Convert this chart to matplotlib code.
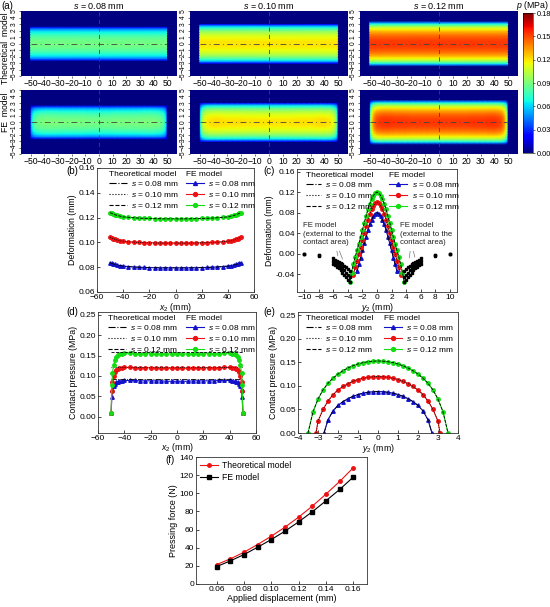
import numpy as np
import matplotlib
matplotlib.use("Agg")
import matplotlib.pyplot as plt
from matplotlib.lines import Line2D

plt.rcParams['font.family'] = ['Liberation Sans', 'DejaVu Sans']
plt.rcParams['mathtext.fontset'] = 'custom'
plt.rcParams['mathtext.rm'] = 'Liberation Sans'
plt.rcParams['mathtext.it'] = 'Liberation Sans:italic'
plt.rcParams['font.size'] = 6
plt.rcParams['axes.linewidth'] = 0.6

W, H = 550, 607

s_values = ["0.08", "0.10", "0.12"]
fe_colors = ["#1212cc", "#ee1111", "#11dd11"]
fe_markers = ["^", "o", "o"]
theo_styles = ["-.", ":", "--"]

# ---- (b) deformation along x2, half profile (symmetric about 0)
x_def = [-50, -48.75, -47.5, -46.25, -45, -42.5, -40, -36, -32, -28, -24, -20, -16, -12, -8, -4, 0]
def_x_008 = [0.0835, 0.0830, 0.0826, 0.0822, 0.0819, 0.0813, 0.0809, 0.0805, 0.0802, 0.0800,
             0.0798, 0.0797, 0.0796, 0.0795, 0.0795, 0.0795, 0.0795]
def_x_010 = [0.1040, 0.1034, 0.1029, 0.1025, 0.1021, 0.1014, 0.1009, 0.1005, 0.1002, 0.1000,
             0.0998, 0.0997, 0.0996, 0.0995, 0.0995, 0.0995, 0.0995]
def_x_012 = [0.1240, 0.1234, 0.1228, 0.1223, 0.1219, 0.1212, 0.1206, 0.1202, 0.1199, 0.1196,
             0.1194, 0.1193, 0.1192, 0.1191, 0.1190, 0.1190, 0.1190]

# ---- (c) deformation along y2 in contact, half profile from 0 outwards
y_def = [0, 0.25, 0.5, 0.75, 1.0, 1.25, 1.5, 1.75, 2.0, 2.25, 2.5, 2.75, 3.0, 3.25, 3.5, 3.75]
def_y_008 = [0.080, 0.078, 0.073, 0.066, 0.057, 0.046, 0.033, 0.020, 0.006, -0.008, -0.021, -0.034]
def_y_010 = [0.100, 0.098, 0.093, 0.086, 0.077, 0.066, 0.053, 0.040, 0.026, 0.012, -0.001, -0.014,
             -0.027, -0.041]
def_y_012 = [0.120, 0.118, 0.113, 0.106, 0.097, 0.086, 0.073, 0.060, 0.046, 0.032, 0.019, 0.006,
             -0.007, -0.021, -0.037, -0.055]
# FE points outside the contact area (both sides)
y_ext = [3.75, 4.0, 4.25, 4.5, 4.75, 5.0, 5.25, 5.5, 5.75, 6.0, 8.0, 10.0]
ext_008 = [-0.034, -0.031, -0.027, -0.024, -0.021, -0.018, -0.016, -0.014, -0.012, -0.009, -0.002, 0.000]
ext_010 = [-0.045, -0.041, -0.037, -0.033, -0.029, -0.026, -0.023, -0.020, -0.018, -0.015, -0.003, 0.000]
ext_012 = [-0.056, -0.051, -0.046, -0.041, -0.037, -0.033, -0.029, -0.026, -0.023, -0.021, -0.005, 0.000]

# ---- (d) contact pressure along x2, half profile
x_pr = [-50, -49.5, -49, -48, -47, -46, -45, -44, -42, -40, -36, -32, -28, -24, -20, -16, -12, -8, -4, 0]
pr_x_008 = [0.010, 0.048, 0.065, 0.075, 0.081, 0.084, 0.086, 0.087, 0.088, 0.089, 0.089, 0.089,
            0.088, 0.088, 0.088, 0.088, 0.088, 0.087, 0.087, 0.087]
pr_x_010 = [0.010, 0.062, 0.085, 0.100, 0.109, 0.114, 0.117, 0.119, 0.120, 0.121, 0.121, 0.120,
            0.120, 0.120, 0.120, 0.119, 0.119, 0.119, 0.119, 0.119]
pr_x_012 = [0.010, 0.078, 0.108, 0.128, 0.140, 0.147, 0.151, 0.153, 0.155, 0.156, 0.156, 0.155,
            0.155, 0.155, 0.154, 0.154, 0.154, 0.154, 0.154, 0.154]
theo_x_ends = [-50, 50]
theo_p0 = [0.092, 0.123, 0.158]

# ---- (e) contact pressure along y2, half profile
y_pr_008 = [-2.7, -2.5, -2.25, -2.0, -1.75, -1.5, -1.25, -1.0, -0.75, -0.5, -0.25, 0]
pr_y_008 = [0.0, 0.028, 0.0470, 0.0585, 0.0667, 0.0730, 0.0779, 0.0817, 0.0845, 0.0865, 0.0876, 0.0880]
y_pr_010 = [-3.1, -3.0, -2.75, -2.5, -2.25, -2.0, -1.75, -1.5, -1.25, -1.0, -0.75, -0.5, -0.25, 0]
pr_y_010 = [0.0, 0.025, 0.050, 0.068, 0.0815, 0.0912, 0.0988, 0.1049, 0.1098, 0.1136, 0.1164,
            0.1184, 0.1196, 0.1200]
y_pr_012 = [-3.5, -3.25, -3.0, -2.75, -2.5, -2.25, -2.0, -1.75, -1.5, -1.25, -1.0, -0.75, -0.5, -0.25, 0]
pr_y_012 = [0.0, 0.045, 0.072, 0.0915, 0.1055, 0.1165, 0.1252, 0.1323, 0.1382, 0.1429, 0.1466,
            0.1495, 0.1514, 0.1526, 0.1530]

# ---- (f) pressing force
disp = [0.06, 0.07, 0.08, 0.09, 0.10, 0.11, 0.12, 0.13, 0.14, 0.15, 0.16]
force_theo = [21.4, 27.6, 35.0, 43.5, 52.7, 62.6, 73.7, 85.8, 99.1, 113.0, 128.2]
force_fe = [19.2, 25.4, 32.4, 40.5, 49.0, 58.2, 68.5, 79.6, 91.7, 104.2, 117.9]


def mirror_neg(x, v):
    # half profile given from negative side up to 0
    x = np.asarray(x, float)
    v = np.asarray(v, float)
    return np.concatenate([x, -x[-2::-1]]), np.concatenate([v, v[-2::-1]])


def mirror_pos(y, v):
    # half profile given from 0 outwards
    y = np.asarray(y[:len(v)], float)
    v = np.asarray(v, float)
    return np.concatenate([-y[::-1], y[1:]]), np.concatenate([v[::-1], v[1:]])


fig = plt.figure(figsize=(W / 100, H / 100), dpi=100)


def px_axes(l, t, r, b):
    return fig.add_axes([l / W, 1 - b / H, (r - l) / W, (b - t) / H])


def style(ax):
    ax.tick_params(direction="in", length=2, width=0.5, labelsize=6, pad=1.5,
                   top=False, right=False)
    for sp in ax.spines.values():
        sp.set_color("#333333")


##
## (a) heatmaps
##
cols = [(21, 177), (190, 348), (360, 518)]
ey = [(y_pr_008, pr_y_008), (y_pr_010, pr_y_010), (y_pr_012, pr_y_012)]
px_list = [pr_x_008, pr_x_010, pr_x_012]

for i in range(3):
    yy, pp = mirror_neg(*ey[i])
    yy = np.concatenate([[-5.0], yy, [5.0]])
    pp = np.concatenate([[0.0], pp, [0.0]])
    xx_fe, xp = mirror_neg(x_pr, px_list[i])
    xp = xp / xp[len(x_pr) - 1]
    grids = [
        (np.array([-57, -50.05, -50, 50, 50.05, 57]), np.array([0, 0, 1, 1, 0, 0])),
        (np.concatenate([[-57, -50.6], xx_fe, [50.6, 57]]), np.concatenate([[0, 0], xp, [0, 0]])),
    ]
    for row, (t, b) in enumerate([(11, 76), (90, 154)]):
        ax = px_axes(cols[i][0], t, cols[i][1], b)
        gx, gm = grids[row]
        X, Y = np.meshgrid(gx, yy)
        C = np.outer(pp, gm)
        mesh = ax.pcolormesh(X, Y, C, shading="gouraud", cmap="jet", vmin=0, vmax=0.18,
                             rasterized=True)
        ax.set_xlim(-57, 57)
        ax.set_ylim(-5, 5)
        ax.axhline(0, xmin=7 / 114, xmax=107 / 114, color="#444444", lw=0.6,
                   ls=(0, (7, 4, 1, 4)))
        ax.axvline(0, color="#444444", lw=0.6, ls=(0, (5, 4)))
        ax.set_xticks(range(-50, 51, 10))
        ax.set_yticks(range(-5, 6, 1))
        ax.tick_params(length=1.5, width=0.4, pad=0.8)
        ax.tick_params(axis="x", labelsize=6.2)
        ax.tick_params(axis="y", labelsize=4.8, labelrotation=90)
        for lab in ax.get_yticklabels():
            lab.set_va("center")
        for sp in ax.spines.values():
            sp.set_visible(False)
    fig.text((cols[i][0] + cols[i][1]) / 2 / W, 1 - 6 / H, "$s$ = %s mm" % s_values[i],
             ha="center", va="center", fontsize=6.5)

cax = px_axes(523, 13, 533, 153)
cb = fig.colorbar(mesh, cax=cax, ticks=np.arange(0, 0.181, 0.03))
cb.ax.set_yticklabels(["%.2f" % v for v in np.arange(0, 0.181, 0.03)])
cb.ax.tick_params(labelsize=5.3, length=1.5, width=0.4, pad=1)
cb.outline.set_linewidth(0.4)
fig.text(549 / W, 1 - 5 / H, "$p$ (MPa)", ha="right", va="center", fontsize=6.3)
fig.text(5.5 / W, 1 - 48 / H, "Theoretical  model", rotation=90, ha="center", va="center", fontsize=6.2)
fig.text(5.5 / W, 1 - 112 / H, "FE  model", rotation=90, ha="center", va="center", fontsize=6.2)
fig.text(1 / W, 1 - 6 / H, "(a)", ha="left", va="center", fontsize=7)


def two_legends(ax, x1, x2, y_top, hl1=2.2):
    th = [Line2D([], [], color="black", ls=theo_styles[k], lw=0.8) for k in range(3)]
    fh = [Line2D([], [], color=fe_colors[k], marker=fe_markers[k], ms=2.8, lw=0.8) for k in range(3)]
    labels = ["$s$ = %s mm" % v for v in s_values]
    common = dict(loc="upper left", frameon=False, fontsize=6, title_fontsize=6, alignment="left",
                  handletextpad=0.5, labelspacing=0.2, borderpad=0.1, borderaxespad=0,
                  numpoints=1)
    leg1 = ax.legend(th, labels, title="Theoretical model", bbox_to_anchor=(x1, y_top),
                     handlelength=hl1, **common)
    ax.add_artist(leg1)
    ax.legend(fh, labels, title="FE model", bbox_to_anchor=(x2, y_top), handlelength=2.2, **common)


##
## (b)
##
ax = px_axes(97, 168, 254, 292)
for k, dv in enumerate([def_x_008, def_x_010, def_x_012]):
    xx, vv = mirror_neg(x_def, dv)
    ax.plot(xx, vv, color=fe_colors[k], marker=fe_markers[k], ms=2.5, lw=0.8)
    ax.plot(xx, vv, color="black", ls=theo_styles[k], lw=0.6)
ax.set_xlim(-60, 60)
ax.set_ylim(0.06, 0.16)
ax.set_xticks(range(-60, 61, 20))
ax.set_yticks(np.arange(0.06, 0.161, 0.02))
ax.yaxis.set_major_formatter(matplotlib.ticker.FormatStrFormatter("%.2f"))
ax.set_xlabel("$x_2$ (mm)", fontsize=6.3, labelpad=0)
ax.set_ylabel("Deformation (mm)", fontsize=6.3, labelpad=1)
style(ax)
two_legends(ax, 0.07, 0.56, 0.985)
fig.text(66 / W, 1 - 171 / H, "(b)", ha="left", va="center", fontsize=7)

##
## (c)
##
ax = px_axes(297, 169, 457, 292)
for k, dv in enumerate([def_y_008, def_y_010, def_y_012]):
    yy, vv = mirror_pos(y_def, dv)
    ax.plot(yy, vv, color=fe_colors[k], marker=fe_markers[k], ms=2.5, lw=0.8)
    ax.plot(yy, vv, color="black", ls=theo_styles[k], lw=0.6)
for ev in [ext_008, ext_010, ext_012]:
    ax.plot(y_ext, ev, ls="none", marker="s", ms=2.0, color="black")
    ax.plot([-v for v in y_ext], ev, ls="none", marker="s", ms=2.0, color="black")
ax.set_xlim(-11, 11)
ax.set_ylim(-0.075, 0.165)
ax.set_xticks(range(-10, 11, 2))
ax.set_yticks(np.arange(-0.04, 0.161, 0.04))
ax.yaxis.set_major_formatter(matplotlib.ticker.FormatStrFormatter("%.2f"))
ax.set_xlabel("$y_2$ (mm)", fontsize=6.3, labelpad=0)
ax.set_ylabel("Deformation (mm)", fontsize=6.3, labelpad=1)
style(ax)
two_legends(ax, 0.05, 0.57, 0.985, hl1=1.8)
txt = "FE model\n(external to the\ncontact area)"
ax.text(-10.2, 0.061, txt, ha="left", va="top", fontsize=5.6, linespacing=1.25, color="#222222")
ax.text(3.2, 0.061, txt, ha="left", va="top", fontsize=5.6, linespacing=1.25, color="#222222")
for start, end in [((-5.6, 0.010), (-5.3, -0.010)), ((-5.3, 0.010), (-4.6, -0.016)),
                   ((4.6, 0.010), (4.4, -0.014)), ((4.9, 0.010), (5.3, -0.012))]:
    ax.annotate("", xy=end, xytext=start,
                arrowprops=dict(arrowstyle="-", color="#777777", lw=0.5))
fig.text(263 / W, 1 - 171 / H, "(c)", ha="left", va="center", fontsize=7)

##
## (d)
##
ax = px_axes(98, 312, 256, 433)
for k, pv in enumerate([pr_x_008, pr_x_010, pr_x_012]):
    xx, vv = mirror_neg(x_pr, pv)
    ax.plot(xx, vv, color=fe_colors[k], marker=fe_markers[k], ms=2.5, lw=0.8)
    ax.plot(theo_x_ends, [theo_p0[k]] * 2, color="black", ls=theo_styles[k], lw=0.6)
ax.set_xlim(-60, 60)
ax.set_ylim(-0.04, 0.257)
ax.set_xticks(range(-60, 61, 20))
ax.set_yticks(np.arange(0, 0.251, 0.05))
ax.yaxis.set_major_formatter(matplotlib.ticker.FormatStrFormatter("%.2f"))
ax.set_xlabel("$x_2$ (mm)", fontsize=6.3, labelpad=-0.5)
ax.set_ylabel("Contact pressure (MPa)", fontsize=6.3, labelpad=1)
style(ax)
two_legends(ax, 0.057, 0.55, 0.985)
fig.text(66 / W, 1 - 312 / H, "(d)", ha="left", va="center", fontsize=7)

##
## (e)
##
ax = px_axes(298, 312, 458, 433)
for k, (yv, pv) in enumerate(ey):
    yy, vv = mirror_neg(yv, pv)
    ax.plot(yy, vv, color=fe_colors[k], marker=fe_markers[k], ms=2.5, lw=0.8)
    ax.plot(yy, vv, color="black", ls=theo_styles[k], lw=0.6)
ax.set_xlim(-4, 4)
ax.set_ylim(0, 0.257)
ax.set_xticks(range(-4, 5, 1))
ax.set_yticks(np.arange(0, 0.251, 0.05))
ax.yaxis.set_major_formatter(matplotlib.ticker.FormatStrFormatter("%.2f"))
ax.set_xlabel("$y_2$ (mm)", fontsize=6.3, labelpad=0)
ax.set_ylabel("Contact pressure (MPa)", fontsize=6.3, labelpad=1)
style(ax)
two_legends(ax, 0.044, 0.53, 0.985, hl1=1.8)
fig.text(263 / W, 1 - 312 / H, "(e)", ha="left", va="center", fontsize=7)

##
## (f)
##
ax = px_axes(196, 457, 367, 584)
ax.plot(disp, force_theo, color="#ee1111", marker="o", ms=2.5, lw=0.8, label="Theoretical model")
ax.plot(disp, force_fe, color="black", marker="s", ms=2.5, lw=0.8, label="FE model")
ax.set_xlim(0.045, 0.17)
ax.set_ylim(0, 140)
ax.set_xticks(np.arange(0.06, 0.161, 0.02))
ax.set_yticks(range(0, 141, 20))
ax.xaxis.set_major_formatter(matplotlib.ticker.FormatStrFormatter("%.2f"))
ax.set_xlabel("Applied displacement (mm)", fontsize=6.5, labelpad=1)
ax.set_ylabel("Pressing force (N)", fontsize=6.5, labelpad=1)
style(ax)
ax.legend(loc="upper left", frameon=False, fontsize=6.2, numpoints=1, handlelength=2.0,
          handletextpad=0.5, labelspacing=0.3, borderpad=0.2, borderaxespad=0.3)
fig.text(165 / W, 1 - 460 / H, "(f)", ha="left", va="center", fontsize=7)

fig.savefig("out.png", dpi=100)
